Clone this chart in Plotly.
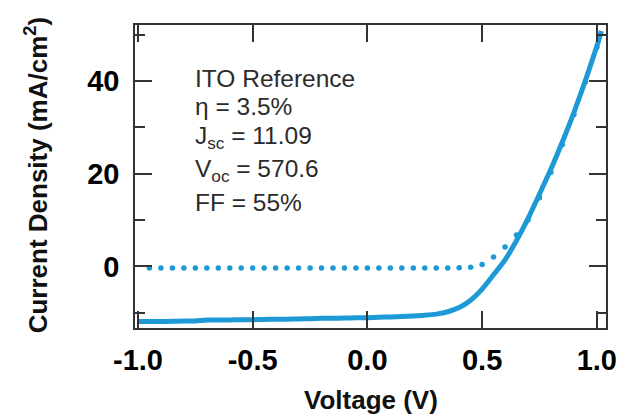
import plotly.graph_objects as go

# Light (illuminated) J-V curve
v_light = [-1.00, -0.95, -0.90, -0.85, -0.80, -0.75, -0.70, -0.65, -0.60, -0.55,
           -0.50, -0.45, -0.40, -0.35, -0.30, -0.25, -0.20, -0.15, -0.10, -0.05,
           0.00, 0.05, 0.10, 0.15, 0.20, 0.25, 0.30, 0.35, 0.40, 0.45,
           0.50, 0.55, 0.60, 0.65, 0.70, 0.75, 0.80, 0.85, 0.90, 0.95, 1.00, 1.02]
j_light = [-11.9, -11.9, -11.9, -11.85, -11.8, -11.8, -11.6, -11.6, -11.55, -11.5,
           -11.5, -11.45, -11.4, -11.4, -11.35, -11.3, -11.2, -11.2, -11.15, -11.1,
           -11.09, -11.0, -10.9, -10.8, -10.7, -10.55, -10.3, -9.8, -8.9, -7.3,
           -4.9, -1.8, 1.4, 5.6, 10.3, 15.6, 21.0, 26.9, 33.2, 40.1, 47.5, 50.8]

# Dark J-V curve (dotted markers)
v_dark = [-0.95, -0.90, -0.85, -0.80, -0.75, -0.70, -0.65, -0.60, -0.55, -0.50,
          -0.45, -0.40, -0.35, -0.30, -0.25, -0.20, -0.15, -0.10, -0.05, 0.00,
          0.05, 0.10, 0.15, 0.20, 0.25, 0.30, 0.35, 0.40, 0.45, 0.50,
          0.55, 0.60, 0.65, 0.70, 0.75, 0.80, 0.85, 0.90, 0.95, 1.00]
j_dark = [-0.35, -0.35, -0.35, -0.35, -0.35, -0.35, -0.35, -0.35, -0.35, -0.35,
          -0.35, -0.35, -0.35, -0.35, -0.35, -0.35, -0.35, -0.35, -0.35, -0.35,
          -0.35, -0.35, -0.35, -0.35, -0.35, -0.35, -0.35, -0.3, -0.2, 0.4,
          2.0, 4.2, 6.8, 10.0, 14.8, 20.3, 26.3, 32.8, 39.8, 47.3]

x_ticks = [-1.0, -0.5, 0.0, 0.5, 1.0]
x_ticklabels = ["-1.0", "-0.5", "0.0", "0.5", "1.0"]
y_ticks = [0, 20, 40]
y_ticklabels = ["0", "20", "40"]
y_minor_ticks = [-10, 10, 30, 50]

x_title = "Voltage (V)"
y_title = "Current Density (mA/cm<sup>2</sup>)"
info_lines = ["ITO Reference", "η = 3.5%", "J<sub>sc</sub> = 11.09",
              "V<sub>oc</sub> = 570.6", "FF = 55%"]

blue = "#1d9ad6"
FONT = "Liberation Sans, Arial, sans-serif"

# plot area in pixels (matches margins below)
L, R, T, B = 135, 610, 25, 328
W, H = R - L, B - T


def px_x(p):
    return (p - L) / W


def px_y(p):
    return (B - p) / H


fig = go.Figure()
fig.add_trace(go.Scatter(x=v_dark, y=j_dark, mode="markers",
                         marker=dict(color=blue, size=5.5), showlegend=False))
fig.add_trace(go.Scatter(x=v_light, y=j_light, mode="lines",
                         line=dict(color=blue, width=5, shape="spline", smoothing=0.6),
                         showlegend=False))

axis_font = dict(family=FONT, size=29, color="black", weight="bold")

fig.update_xaxes(range=[-1.013, 1.04], tickmode="array", tickvals=x_ticks, ticktext=x_ticklabels,
                 ticks="inside", ticklen=17, tickwidth=1.5, tickcolor="#333",
                 showline=True, linecolor="#333", linewidth=1.5, mirror="allticks",
                 showgrid=False, zeroline=False, tickfont=axis_font, ticklabelstandoff=5)
fig.update_yaxes(range=[-13.3, 52.1], tickmode="array", tickvals=y_ticks, ticktext=y_ticklabels,
                 ticks="inside", ticklen=17, tickwidth=1.5, tickcolor="#333",
                 minor=dict(tickvals=y_minor_ticks, ticks="inside", ticklen=10,
                            tickwidth=1.5, tickcolor="#333"),
                 showline=True, linecolor="#333", linewidth=1.5, mirror="allticks",
                 showgrid=False, zeroline=False, tickfont=axis_font, ticklabelstandoff=8)

title_font = dict(family=FONT, size=26, color="#111", weight="bold")
fig.add_annotation(x=0.5, y=px_y(400), xref="paper", yref="paper", xanchor="center",
                   yanchor="middle", text=x_title, showarrow=False, font=title_font)
fig.add_annotation(x=px_x(35.5), y=px_y(175), xref="paper", yref="paper", xanchor="center",
                   yanchor="middle", text=y_title, showarrow=False, textangle=-90,
                   font=title_font)

# info block, one line each (box-centre pixel rows placed to match the reference)
line_rows = [78, 106, 137, 171, 202]
for txt, row in zip(info_lines, line_rows):
    fig.add_annotation(x=px_x(193), y=px_y(row), xref="paper", yref="paper",
                       xanchor="left", yanchor="middle", text=txt, showarrow=False,
                       align="left", font=dict(family=FONT, size=24.5, color="#2b2b2b"))

fig.update_layout(width=629, height=419, margin=dict(l=L, r=629 - R, t=T, b=419 - B),
                  plot_bgcolor="white", paper_bgcolor="white")

fig.write_html("out.html", config={"displayModeBar": False},
               post_script="document.body.style.margin='0';document.body.style.overflow='hidden';")
